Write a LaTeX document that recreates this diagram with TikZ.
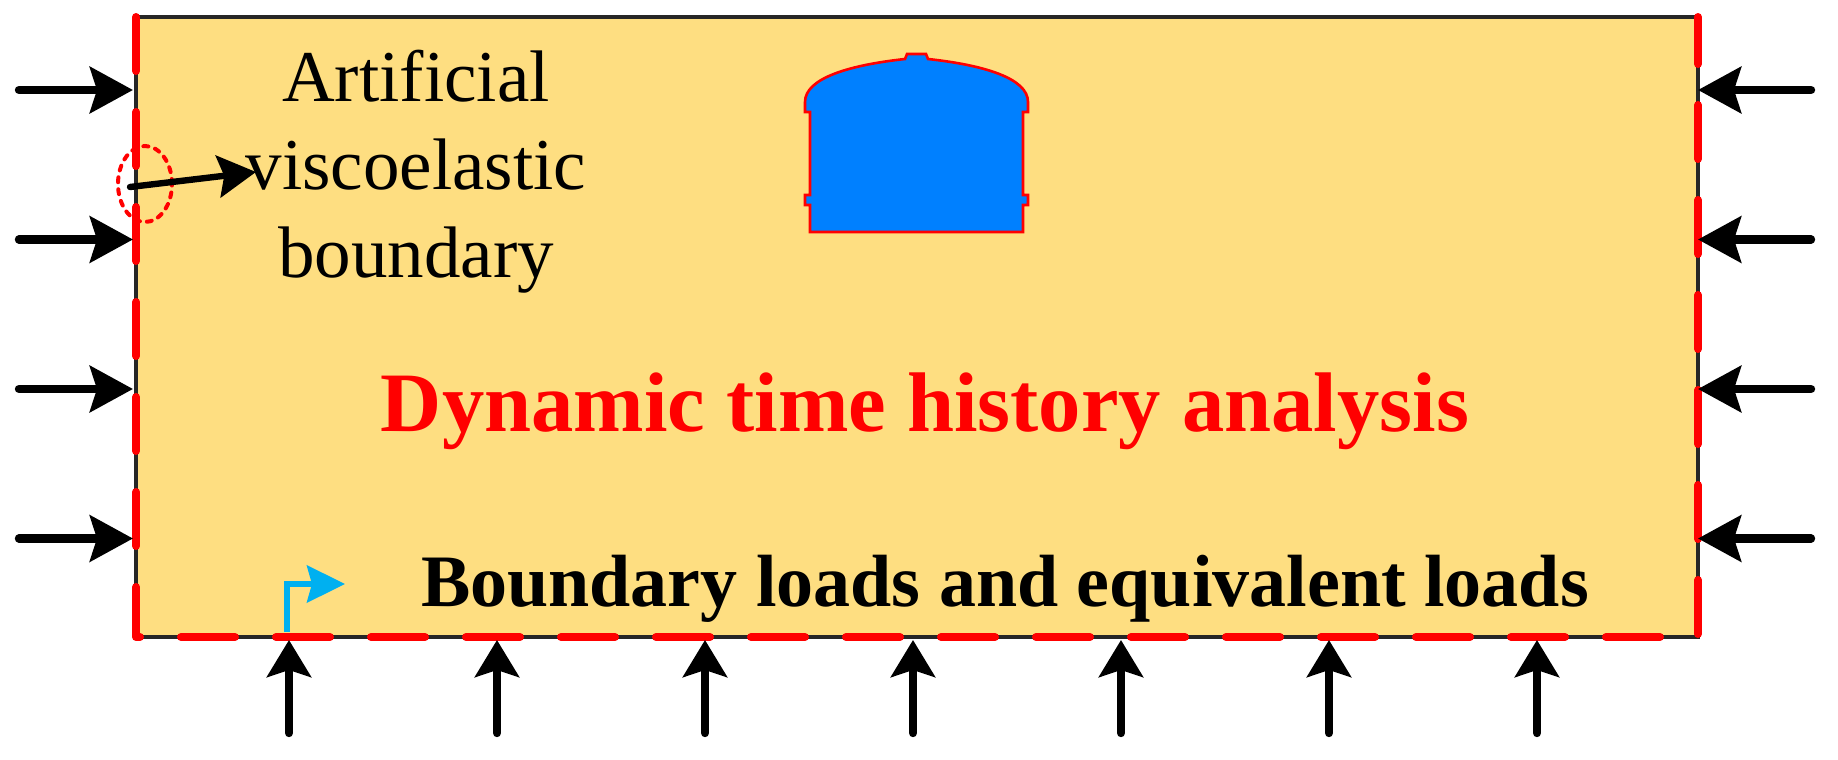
\documentclass[tikz,border=0pt]{standalone}
\usepackage{fontspec}
\setmainfont{Liberation Serif}
\usetikzlibrary{arrows.meta}
\definecolor{soil}{RGB}{254,222,129}
\definecolor{tunblue}{RGB}{0,128,255}
\definecolor{cyanarr}{RGB}{0,176,240}
\begin{document}
\begin{tikzpicture}[x=0.5pt,y=-0.5pt,
  hload/.style={line width=4.2pt, line cap=round, -{Stealth[length=21.5pt,width=23pt,inset=3.5pt]}},
  vload/.style={line width=4.2pt, line cap=round, -{Stealth[length=18.5pt,width=22pt,inset=3.5pt]}},
  bnd/.style={red, line width=4pt, line cap=round, line join=round, dash pattern=on 27pt off 20.5pt},
  lbl/.style={inner sep=0pt, anchor=base}]
\useasboundingbox (0,0) rectangle (1838,760);
% domain
\coordinate (TL) at (136,17);
\coordinate (BL) at (136,637);
\coordinate (BR) at (1698,637);
\coordinate (TR) at (1698,17);
\fill[soil] (TL) rectangle (BR);
\draw[line width=1.6pt, black!85] (TL) -- (TR) -- (BR) -- (BL) -- cycle;
\draw[bnd] (TL) -- (BL) -- (BR) -- (TR);
% side loads
\foreach \i/\yy in {1/90,2/239.5,3/389,4/538.5}{
  \coordinate (Ls\i) at (19,\yy);
  \coordinate (Le\i) at (133,\yy);
  \coordinate (Rs\i) at (1811,\yy);
  \coordinate (Re\i) at (1698,\yy);
  \draw[hload] (Ls\i) -- (Le\i);
  \draw[hload] (Rs\i) -- (Re\i);
}
% bottom loads
\foreach \i in {0,...,6}{
  \coordinate (Bs\i) at ({289+208*\i},733);
  \coordinate (Be\i) at ({289+208*\i},640);
  \draw[vload] (Bs\i) -- (Be\i);
}
% tunnel
\filldraw[fill=tunblue, draw=red, line width=1.3pt]
  (810,232) -- (810,205) -- (805,205) -- (805,195) -- (810,195) -- (810,112) -- (805,112) -- (805,102)
  .. controls (805,78) and (850,65) .. (905,59) -- (907,54) -- (926,54) -- (928,59)
  .. controls (983,65) and (1028,78) .. (1028,102) -- (1028,112) -- (1023,112) -- (1023,195)
  -- (1028,195) -- (1028,205) -- (1023,205) -- (1023,232) -- cycle;
% artificial boundary marker
\coordinate (ea) at (145,184);
\draw[red, line width=2pt, line cap=round, dash pattern=on 2.5pt off 3.5pt] (ea) ellipse [x radius=13.5pt, y radius=19pt];
\coordinate (ps) at (130,187);
\coordinate (pe) at (256,172);
\draw[line width=3.2pt, line cap=round, -{Stealth[length=19pt,width=21pt,inset=3pt]}] (ps) -- (pe);
% direction arrow
\coordinate (cs) at (287,632);
\coordinate (cm) at (287,584);
\coordinate (ce) at (345,584);
\draw[cyanarr, line width=2.75pt, -{Stealth[length=19pt,width=18.5pt,inset=2.5pt]}] (cs) -- (cm) -- (ce);
% texts
\node[lbl, align=center, font=\fontsize{36.5pt}{44pt}\selectfont] (art) at (416,277) {Artificial\\viscoelastic\\boundary};
\node[lbl, red, font=\fontsize{42.3pt}{50pt}\selectfont\bfseries] (dyn) at (925,431) {Dynamic time history analysis};
\node[lbl, font=\fontsize{37pt}{44pt}\selectfont\bfseries] (bl) at (1005,606) {Boundary loads and equivalent loads};
\end{tikzpicture}
\end{document}
